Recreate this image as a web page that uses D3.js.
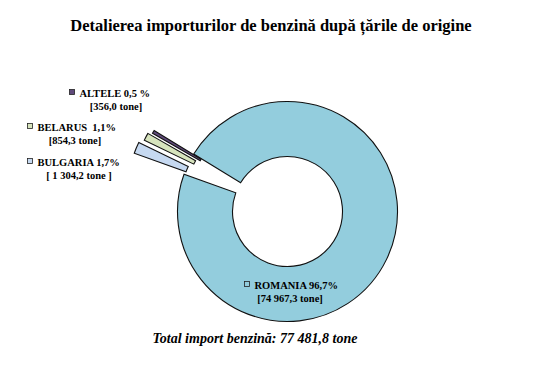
<!DOCTYPE html>
<html><head><meta charset="utf-8">
<script src="https://cdn.jsdelivr.net/npm/d3@7"></script>
<style>body{margin:0;background:#fff}svg{display:block}</style>
</head><body>
<svg id="c" width="553" height="367"></svg>
<script>
const categories = ["ROMANIA", "BULGARIA", "BELARUS", "ALTELE"];
const tonnes = [74967.3, 1304.2, 854.3, 356.0];
const percentLabels = ["96,7%", "1,7%", "1,1%", "0,5 %"];
const tonneLabels = ["[74 967,3 tone]", "[ 1 304,2 tone ]", "[854,3 tone]", "[356,0 tone]"];
const colors = ["#93cddd", "#c6d9f1", "#d7e4bd", "#604a7b"];
const titleText = "Detalierea importurilor de benzină după țările de origine";
const totalText = "Total import benzină: 77 481,8 tone";

const svg = d3.select("#c");
const cx = 287.5, cy = 211.5, rOut = 110, rIn = 55;
const explode = [0, 54, 50, 46];

const startDeg = 301.5;
const pie = d3.pie().sort(null).value(d => d)
  .startAngle(startDeg * Math.PI / 180)
  .endAngle((startDeg + 360) * Math.PI / 180);
const arcs = pie(tonnes);
const arc = d3.arc().innerRadius(rIn).outerRadius(rOut);

const g = svg.append("g").attr("transform", `translate(${cx},${cy})`);
g.selectAll("path").data(arcs).join("path")
  .attr("d", arc)
  .attr("fill", (d, i) => colors[i])
  .attr("stroke", "#111")
  .attr("stroke-width", 1.1)
  .attr("transform", (d, i) => {
    const m = (d.startAngle + d.endAngle) / 2;
    return `translate(${explode[i] * Math.sin(m)},${-explode[i] * Math.cos(m)})`;
  });

svg.append("text").attr("x", 271).attr("y", 31).attr("text-anchor", "middle")
  .attr("font-family", "Liberation Serif, Times New Roman, serif")
  .attr("font-weight", "bold").attr("font-size", 16.5).attr("fill", "#000")
  .text(titleText);

svg.append("text").attr("x", 255).attr("y", 343).attr("text-anchor", "middle")
  .attr("font-family", "Liberation Serif, Times New Roman, serif")
  .attr("font-weight", "bold").attr("font-style", "italic").attr("font-size", 14).attr("fill", "#000")
  .text(totalText);

// label layout: [square x, line1 y, line2 center x]
const labelPos = [
  {sx: 244, y1: 289, x2: 290},
  {sx: 27, y1: 166, x2: 79},
  {sx: 27, y1: 131, x2: 75},
  {sx: 69, y1: 97, x2: 116}
];
const lab = svg.append("g").attr("font-family", "Liberation Serif, Times New Roman, serif")
  .attr("font-weight", "bold").attr("font-size", 10.5).attr("fill", "#000");
categories.forEach((c, i) => {
  const p = labelPos[i];
  lab.append("rect").attr("x", p.sx + 0.5).attr("y", p.y1 - 7.5).attr("width", 5).attr("height", 5)
    .attr("fill", colors[i]).attr("stroke", "#222").attr("stroke-width", 0.8);
  const sep = i === 2 ? "\u00a0\u00a0" : " ";
  lab.append("text").attr("x", p.sx + 10.5).attr("y", p.y1).text(c + sep + percentLabels[i]);
  lab.append("text").attr("x", p.x2).attr("y", p.y1 + 13).attr("text-anchor", "middle").text(tonneLabels[i]);
});
</script>
</body></html>
